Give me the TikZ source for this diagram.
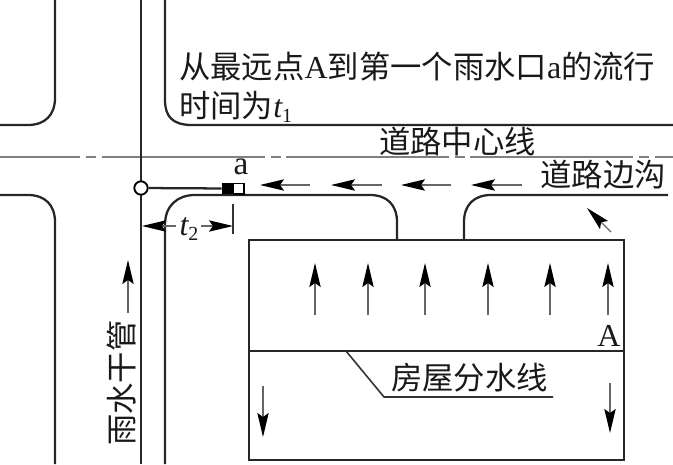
\documentclass[tikz,border=0pt]{standalone}
\usepackage{fontspec}
\setmainfont{Liberation Serif}
\newfontfamily\cjk{Noto Sans CJK SC}
\usetikzlibrary{arrows.meta}
\newcommand{\lat}[1]{{\rmfamily\fontsize{24pt}{24pt}\selectfont #1}}
\tikzset{
 road/.style={line width=1.7pt,black!85},
 thin line/.style={line width=1.2pt,black!80},
 flow/.style={line width=1pt,black!60,-{Stealth[length=18pt,width=8.5pt,inset=3pt,black]}},
 lab/.style={inner sep=0,font=\fontsize{23.5pt}{23.5pt}\selectfont\cjk,text=black!90},
 latin/.style={inner sep=0,font=\fontsize{24pt}{24pt}\selectfont,text=black!90}
}
\begin{document}
\begin{tikzpicture}[x=0.75pt,y=-0.75pt]
\useasboundingbox (0,0) rectangle (673,464);
% roads
\draw[road] (165,0) -- (165,100) .. controls (165,116) and (172,125) .. (192,125) -- (673,125);
\draw[road] (0,125) -- (28,125) .. controls (45,125) and (55,115) .. (55,98) -- (55,0);
\draw[road] (0,195) -- (28,195) .. controls (45,195) and (55,205) .. (55,222) -- (55,464);
\draw[road] (165,464) -- (165,225) .. controls (165,205) and (178,195) .. (195,195) -- (370,195) .. controls (387,195) and (397,205) .. (397,222) -- (397,240);
\draw[road] (464,240) -- (464,222) .. controls (464,205) and (474,195) .. (491,195) -- (668,195);
% centre line
\draw[line width=2.1pt,black!50,dash pattern=on 122.25pt off 4.5pt on 7.5pt off 4pt,dash phase=62pt] (0,157) -- (673,157);
% pipe
\coordinate (pt) at (141,0);
\coordinate (pb) at (141,464);
\draw[road] (pt) -- (pb);
\node[circle,draw=black,line width=1.4pt,fill=white,minimum size=10pt,inner sep=0] (o) at (141,188) {};
\node[draw=black,fill=black,line width=.8pt,minimum width=8pt,minimum height=8pt,inner sep=0] (b) at (227.5,188.5) {};
\node[draw=black,fill=white,line width=1pt,minimum width=8pt,minimum height=8pt,inner sep=0] (w) at (238.5,188.5) {};
\draw[road] (o) -- (b);
% house
\node[draw=black!85,line width=1.5pt,minimum width=281.25pt,minimum height=165pt,inner sep=0] (h) at (436.5,350) {};
\coordinate (dl) at (249,351);
\coordinate (dr) at (624,351);
\draw[road] (dl) -- (dr);
\draw[thin line] (346,351) -- (384,397) -- (553,397);
% flow arrows
\foreach \xa/\xb in {310/260,382/331,451/401,522/471}
  \draw[flow] (\xa,185) -- (\xb,185);
\foreach \xa in {315,368,425,488,550,608}
  \draw[flow] (\xa,315) -- (\xa,263);
\draw[flow] (263,386) -- (263,437);
\draw[flow] (610,383) -- (610,433);
\draw[flow] (611,232) -- (587,208);
\draw[flow] (128,313) -- (128,260);
% t2
\coordinate (tk) at (233,226);
\draw[line width=1.2pt,black!80] (233,204) -- (233,234);
\draw[line width=.8pt,black!60] (167,226) -- (176,226) (201,226) -- (208,226);
\draw[flow] (167,226) -- (142,226);
\draw[flow] (206,226) -- (tk);
% labels
\node[lab,anchor=west] at (179,67) {从最远点\lat{A}到第一个雨水口\lat{a}的流行};
\node[lab,anchor=west] at (179,107) {时间为\lat{\itshape t\upshape\raisebox{-4pt}{\fontsize{15pt}{15pt}\selectfont 1}}};
\node[lab] at (457.5,142) {道路中心线};
\node[lab] at (603,175) {道路边沟};
\node[lab] at (469.5,378) {房屋分水线};
\node[lab,rotate=90] at (122,383) {雨水干管};
\node[latin,font=\fontsize{25pt}{25pt}\selectfont] at (241,167) {a};
\node[latin] at (609,336) {A};
\node[latin] at (189,229) {\itshape t\upshape\raisebox{-4pt}{\fontsize{15pt}{15pt}\selectfont 2}};
\end{tikzpicture}
\end{document}
